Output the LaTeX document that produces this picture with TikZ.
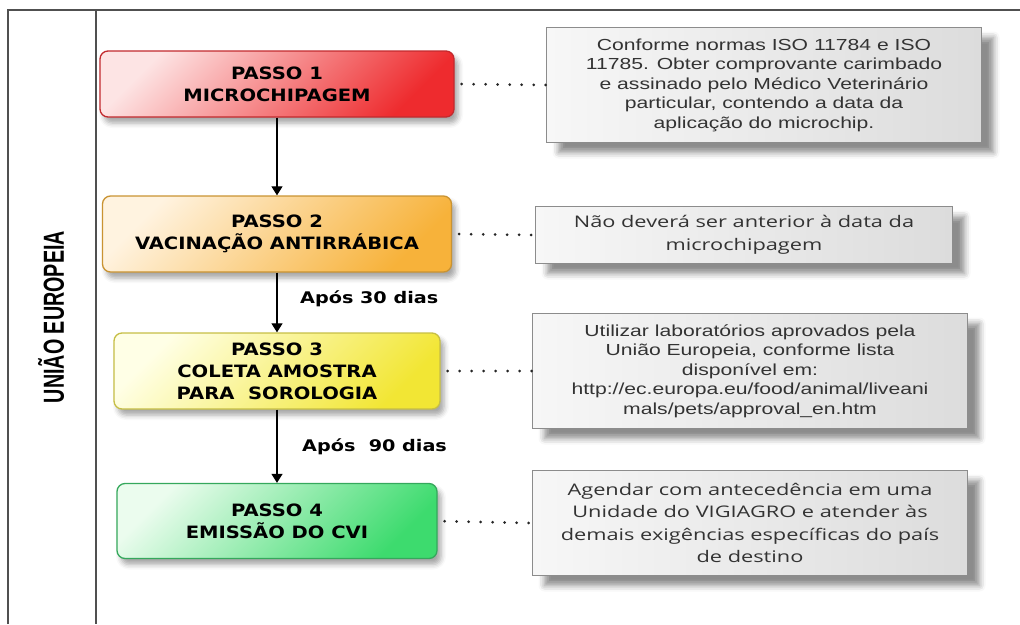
\documentclass[tikz,border=0pt]{standalone}
\usepackage{fontspec}
\newfontfamily\stepfont{DejaVu Sans}[FakeStretch=1.15]
\newfontfamily\prazofont{DejaVu Sans}[FakeStretch=1.2]
\newfontfamily\notefont{Liberation Sans}[FakeStretch=1.32]
\newfontfamily\notefontb{Open Sans}[FakeStretch=1.36]
\newfontfamily\sidefont{Liberation Sans}[FakeStretch=0.68]
\usetikzlibrary{arrows.meta, shadows.blur}

\definecolor{framegray}{HTML}{505050}
\definecolor{redlight}{HTML}{FDE4E4}
\definecolor{reddark}{HTML}{EE2B2E}
\definecolor{redline}{HTML}{C22A2E}
\definecolor{orangelight}{HTML}{FFF3E0}
\definecolor{orangedark}{HTML}{F7B23A}
\definecolor{orangeline}{HTML}{C99332}
\definecolor{yellowlight}{HTML}{FFFFE6}
\definecolor{yellowdark}{HTML}{F2E634}
\definecolor{yellowline}{HTML}{C6BE45}
\definecolor{greenlight}{HTML}{EBFCEE}
\definecolor{greendark}{HTML}{3DDB6E}
\definecolor{greenline}{HTML}{35A85C}
\definecolor{notelight}{HTML}{F7F7F7}
\definecolor{notedark}{HTML}{DCDCDC}
\definecolor{noteline}{HTML}{8C8C8C}

\tikzstyle{arrow} = [line width=1.2pt,-{Triangle[width=11pt,length=9pt]}]
\tikzstyle{passo} = [draw, rounded corners=8pt, line width=1.3pt, inner sep=0pt, align=center,
  font=\stepfont\bfseries\fontsize{17}{22}\selectfont, shading angle=45,
  blur shadow={shadow xshift=4pt, shadow yshift=-6pt, shadow blur radius=5pt, shadow opacity=35}]
\tikzstyle{nota} = [draw=noteline, line width=0.9pt, inner sep=0pt, align=center,
  left color=notelight, right color=notedark, text=black!80,
  blur shadow={shadow xshift=12pt, shadow yshift=-10pt, shadow blur radius=6pt, shadow opacity=45}]
\tikzstyle{ligacao} = [line width=3pt, dash pattern=on 0pt off 12pt, line cap=round, black!85]
\tikzstyle{prazo} = [font=\prazofont\bfseries\fontsize{16}{18}\selectfont, anchor=west, inner sep=0pt]

\begin{document}
\begin{tikzpicture}[x=1pt,y=-1pt]
\useasboundingbox (0,0) rectangle (1020,624);

% moldura
\draw[framegray, line width=1.6pt] (8,624) -- (8,10) -- (1020,10);
\draw[framegray, line width=1.6pt] (96,10) -- (96,624);

% titulo lateral
\node[rotate=90, font=\sidefont\bfseries\fontsize{29}{30}\selectfont] (titulo) at (51,317) {UNIÃO EUROPEIA};

% passos
\node[passo, draw=redline, top color=redlight, bottom color=reddark, shading angle=45,
  minimum width=354pt, minimum height=66pt] (passo1) at (277,84) {PASSO 1\\MICROCHIPAGEM};
\node[passo, draw=orangeline, top color=orangelight, bottom color=orangedark, shading angle=45,
  minimum width=349pt, minimum height=76pt] (passo2) at (277,234) {PASSO 2\\VACINAÇÃO ANTIRRÁBICA};
\node[passo, draw=yellowline, top color=yellowlight, bottom color=yellowdark, shading angle=45,
  minimum width=326pt, minimum height=76pt] (passo3) at (277,371) {PASSO 3\\COLETA AMOSTRA\\PARA\ \ SOROLOGIA};
\node[passo, draw=greenline, top color=greenlight, bottom color=greendark, shading angle=45,
  minimum width=320pt, minimum height=75pt] (passo4) at (277,521) {PASSO 4\\EMISSÃO DO CVI};

% notas
\node[nota, font=\notefont\fontsize{16}{19.5}\selectfont, minimum width=435pt, minimum height=115pt]
  (nota1) at (764,85) {Conforme normas ISO 11784 e ISO\\11785. Obter comprovante carimbado\\e assinado pelo Médico Veterinário\\particular, contendo a data da\\aplicação do microchip.};
\node[nota, font=\notefontb\fontsize{16}{23}\selectfont, minimum width=417pt, minimum height=57pt]
  (nota2) at (744,235) {Não deverá ser anterior à data da\\microchipagem};
\node[nota, font=\notefont\fontsize{16}{19.5}\selectfont, minimum width=435pt, minimum height=115pt]
  (nota3) at (750,371) {Utilizar laboratórios aprovados pela\\União Europeia, conforme lista\\disponível em:\\http://ec.europa.eu/food/animal/liveani\\mals/pets/approval\_en.htm};
\node[nota, font=\notefontb\fontsize{16}{22.5}\selectfont, minimum width=435pt, minimum height=105pt]
  (nota4) at (750,523) {Agendar com antecedência em uma\\Unidade do VIGIAGRO e atender às\\demais exigências específicas do país\\de destino};

% prazos
\node[prazo] (prazo30) at (300,299) {Após 30 dias};
\node[prazo] (prazo90) at (302,447) {Após\ \ 90 dias};

% setas
\draw[arrow] (passo1) -- (passo2);
\draw[arrow] (passo2) -- (passo3);
\draw[arrow] (passo3) -- (passo4);

% ligacoes pontilhadas
\draw[ligacao, shorten <=7pt] (passo1.east) -- (nota1.west);
\draw[ligacao, shorten <=7pt] (passo2.east) -- (nota2.west);
\draw[ligacao, shorten <=7pt] (passo3.east) -- (nota3.west);
\draw[ligacao, shorten <=7pt] (passo4.east) -- (nota4.west);

\end{tikzpicture}
\end{document}
